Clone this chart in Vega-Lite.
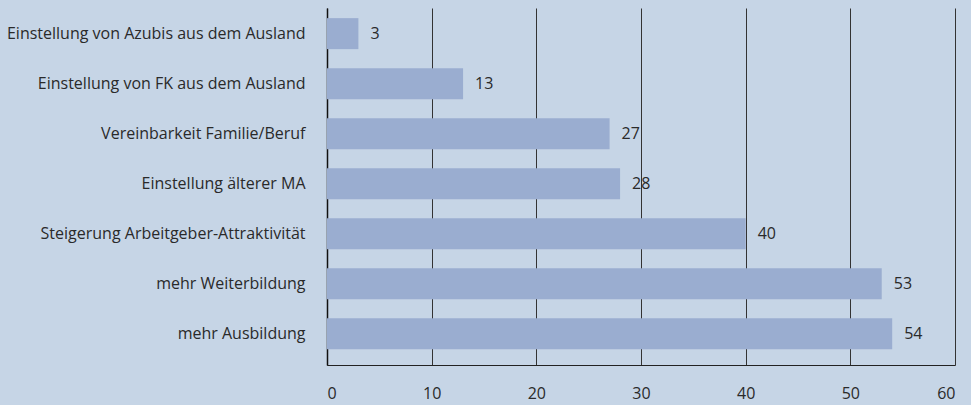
{
  "$schema": "https://vega.github.io/schema/vega-lite/v6.json",
  "width": 628,
  "height": 357,
  "autosize": {"type": "none"},
  "padding": {"left": 327, "top": 8, "right": 16, "bottom": 40},
  "background": "#c6d5e6",
  "config": {
    "view": {"stroke": null},
    "font": "Open Sans",
    "axis": {"labelFont": "Open Sans", "labelFontSize": 16, "labelColor": "#2a2a2a"}
  },
  "data": {
    "values": [
      {"kategorie": "Einstellung von Azubis aus dem Ausland", "wert": 3},
      {"kategorie": "Einstellung von FK aus dem Ausland", "wert": 13},
      {"kategorie": "Vereinbarkeit Familie/Beruf", "wert": 27},
      {"kategorie": "Einstellung älterer MA", "wert": 28},
      {"kategorie": "Steigerung Arbeitgeber-Attraktivität", "wert": 40},
      {"kategorie": "mehr Weiterbildung", "wert": 53},
      {"kategorie": "mehr Ausbildung", "wert": 54}
    ]
  },
  "encoding": {
    "y": {
      "field": "kategorie",
      "type": "nominal",
      "sort": null,
      "scale": {"paddingInner": 0.38, "paddingOuter": 0.26, "align": 0.39},
      "axis": {
        "title": null,
        "ticks": false,
        "labelPadding": 22,
        "domainColor": "#111111",
        "domainWidth": 1.5,
        "labelLimit": 400
      }
    },
    "x": {
      "field": "wert",
      "type": "quantitative",
      "scale": {"domain": [0, 60], "nice": false},
      "axis": {
        "title": null,
        "values": [0, 10, 20, 30, 40, 50, 60],
        "ticks": false,
        "labelPadding": 20,
        "grid": true,
        "gridColor": "#333333",
        "gridWidth": 1,
        "gridOpacity": 1,
        "domainColor": "#222222",
        "domainWidth": 1
      }
    }
  },
  "layer": [
    {"mark": {"type": "bar", "color": "#9aadd0"}},
    {
      "mark": {"type": "text", "align": "left", "dx": 12, "fontSize": 16, "font": "Open Sans", "color": "#2a2a2a"},
      "encoding": {"text": {"field": "wert", "type": "quantitative"}}
    }
  ]
}
